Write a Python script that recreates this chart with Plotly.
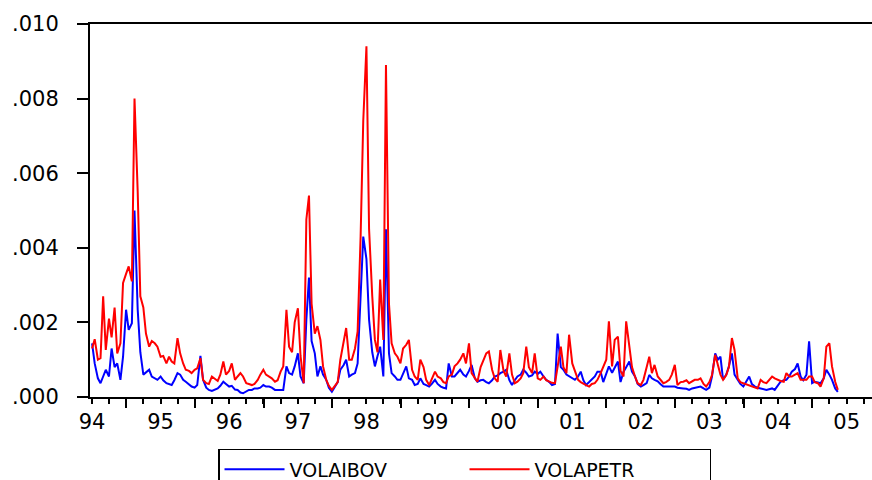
import plotly.graph_objects as go
import pandas as pd

# semi-monthly observation dates, Jan 1994 .. Nov 2004
dates = pd.date_range("1994-01-01", periods=262, freq="SMS")

SCALE = 1e-4  # values below are in units of 0.0001

volaibov_e4 = [
    # 1994
    14.4, 9, 5, 3.7, 5.5, 7.3, 5.5, 13, 8, 9, 4.6, 10.8, 23.4, 18, 19.8, 50, 23.4, 12, 6, 6.5, 7.3, 5.5, 5, 4.6,
    # 1995
    5.5, 4.5, 3.7, 3.5, 3.2, 4.5, 6.4, 6, 4.6, 4.1, 3.5, 2.8, 2.5, 3.2, 11, 4.6, 2.5, 1.9, 1.6, 1.9, 2.3, 3, 4.1, 3.5,
    # 1996
    2.8, 3, 2, 1.9, 1.2, 1, 1.4, 1.9, 1.9, 2.3, 2.3, 2.5, 3.2, 2.8, 2.8, 2.5, 1.9, 1.9, 1.9, 1.9, 8.2, 6.4, 6, 8.2,
    # 1997
    11.7, 5.5, 3.7, 20.7, 32, 15, 11.7, 5.5, 8.2, 6, 4.6, 2.5, 1.4, 2.5, 4, 7.3, 8.5, 10, 5.5, 6, 6.4, 9, 25, 43,
    # 1998
    37, 20.7, 12, 8.2, 11, 13.5, 5.5, 45, 11.7, 6.4, 5.5, 4.6, 4.6, 6.4, 8.2, 5, 4.6, 3.2, 3.5, 5, 3.5, 3.2, 2.8, 3.5,
    # 1999
    4.6, 3.5, 2.8, 2.5, 2.3, 9, 5.5, 5.5, 6.5, 7.3, 6, 5.5, 7, 8.6, 5, 4.1, 4.5, 4.6, 4, 3.7, 4.5, 5.5, 5.8, 6.4,
    # 2000
    6.8, 7.3, 4.5, 3.2, 4.5, 5.5, 6, 7.3, 6.5, 5.5, 5.8, 6.8, 6.2, 6.8, 5.5, 4.6, 4, 3.2, 3.5, 17, 8, 7.3, 6, 5.5,
    # 2001
    5, 4.6, 5.5, 6.8, 4.5, 3.2, 4, 4.6, 5.5, 6.8, 6.8, 4, 6, 8.2, 6.5, 7.7, 9.5, 4, 6.8, 8, 9.5, 6.8, 5.5, 3.5,
    # 2002
    2.8, 3.2, 3.7, 5.9, 5, 4.6, 4.2, 3.5, 2.8, 2.8, 2.8, 2.8, 2.8, 2.5, 2.3, 2.3, 2.2, 1.9, 2.3, 2.5, 2.8, 2.8, 2.3, 1.9,
    # 2003
    2.5, 5.5, 11.7, 10, 10.8, 4.6, 6, 8.2, 11.7, 6, 4.6, 3.5, 2.8, 4, 5.5, 3.5, 2.8, 2.5, 2.3, 2.1, 1.9, 2.1, 2.3, 1.9,
    # 2004
    3, 4.1, 4.5, 4.6, 5.5, 6.8, 7.5, 9, 5.5, 4.5, 6, 14.9, 3.7, 4.1, 3.9, 3.7, 5, 7.3, 6, 4.6, 2.3, 1.4,
]

volapetr_e4 = [
    # 1994
    13, 15.5, 10, 10.4, 27, 12.6, 21, 16, 24, 11.7, 14.4, 30.6, 33, 35, 31, 80, 55, 27, 24, 17, 13.5, 15, 14.4, 13.5,
    # 1995
    10.8, 11, 9, 10.8, 9.5, 9, 15.8, 11.7, 9, 7.3, 7, 6.4, 7.3, 7.7, 10.4, 4.6, 3.7, 3.5, 5.5, 5, 4.3, 6, 9.5, 6,
    # 1996
    7, 9, 4.6, 5.5, 6.4, 5.5, 3.7, 3.5, 3.2, 3.5, 4.6, 6, 7.3, 6, 5.5, 5, 4.1, 4.5, 6.8, 8.2, 23.4, 13.5, 12, 20,
    # 1997
    23.8, 11, 3.7, 47.6, 54, 25, 17, 19, 15.3, 8.2, 4.6, 3, 1.9, 2.8, 4, 10, 15, 18.5, 10, 10, 13, 17.6, 43, 74,
    # 1998
    94, 45, 27, 15.3, 12, 31.5, 15.3, 89, 25, 14.4, 11.7, 10.8, 9, 13, 14, 15.3, 7.3, 5.5, 4.6, 10, 8, 4.6, 3.2, 5,
    # 1999
    6.8, 5.5, 5, 4, 3.7, 5.5, 6, 8.2, 9, 10, 11.7, 9, 14.4, 6.4, 5, 4.1, 8, 10, 11.7, 12.2, 7.3, 5, 4.1, 12.6,
    # 2000
    7, 5.5, 11.7, 6, 3.7, 4.1, 5, 6.4, 13.5, 8, 6.4, 11.7, 5, 4.6, 5.5, 4.5, 4.1, 3.8, 3.7, 8.2, 13.5, 8, 6.4, 16.7,
    # 2001
    9, 7, 4.6, 4, 3.7, 3.2, 2.8, 3.5, 3.7, 4.6, 6.4, 8.2, 10, 20.3, 8.2, 15.3, 16.2, 7, 5.5, 20.3, 13, 8, 5.5, 3.7,
    # 2002
    3.2, 4.6, 8, 10.8, 6.4, 8.6, 5.5, 4.5, 3.7, 4, 4.6, 6, 8.6, 3.2, 4, 4.1, 4.5, 3.7, 4.2, 4.6, 4.6, 5, 3.5, 2.8,
    # 2003
    4, 5.9, 11.3, 8.2, 6, 4.6, 5.9, 8, 15.8, 12.6, 5, 4, 3.7, 3.5, 3.2, 3, 2.5, 2.3, 4.6, 4, 3.7, 4.5, 5.5, 5,
    # 2004
    4.6, 4.3, 4.1, 6.4, 5.5, 5.5, 6, 6.4, 4.6, 4.6, 4.6, 5.5, 5.5, 4, 3.7, 2.8, 5, 13.5, 14.4, 8.2, 4.1, 1.9,
]

year_labels = ["94", "95", "96", "97", "98", "99", "00", "01", "02", "03", "04", "05"]
year_starts = [f"{1994 + i}-01-01" for i in range(len(year_labels))]
mid_years = [f"{1994 + i}-07-02" for i in range(12)]
y_ticks = [0, 0.002, 0.004, 0.006, 0.008, 0.010]
y_ticktext = [".000", ".002", ".004", ".006", ".008", ".010"]

volaibov = [v * SCALE for v in volaibov_e4]
volapetr = [v * SCALE for v in volapetr_e4]

FONT = "DejaVu Sans"
x_range = ["1993-12-21", "2005-05-16"]

fig = go.Figure()
fig.add_trace(go.Scatter(x=dates, y=volaibov, mode="lines", name="VOLAIBOV",
                         line=dict(color="#0000FF", width=2)))
fig.add_trace(go.Scatter(x=dates, y=volapetr, mode="lines", name="VOLAPETR",
                         line=dict(color="#FF0000", width=2)))
# invisible trace carrying the year labels axis
fig.add_trace(go.Scatter(x=[dates[0]], y=[None], xaxis="x2", showlegend=False,
                         hoverinfo="skip"))

fig.update_layout(
    width=872, height=480,
    paper_bgcolor="white", plot_bgcolor="white",
    margin=dict(l=90, r=0, t=24, b=83, autoexpand=False),
    font=dict(family=FONT, color="black", size=20),
    showlegend=True,
    legend=dict(
        orientation="h", x=0.1637, y=-0.139, xanchor="left", yanchor="top",
        bordercolor="black", borderwidth=1.5, bgcolor="white",
        font=dict(family=FONT, size=19, color="black"),
        entrywidth=170, entrywidthmode="pixels", itemwidth=60,
        tracegroupgap=0,
    ),
    xaxis=dict(
        type="date", range=x_range,
        showline=True, linecolor="black", linewidth=2, mirror=True,
        showgrid=False, zeroline=False,
        tickmode="array", tickvals=mid_years, showticklabels=False,
        ticks="outside", ticklen=9, tickwidth=2, tickcolor="black",
        minor=dict(ticks="outside", dtick="M3", tick0="1994-01-01",
                   ticklen=5, tickwidth=2, tickcolor="black", showgrid=False),
    ),
    xaxis2=dict(
        type="date", range=x_range, overlaying="x", anchor="y", side="bottom",
        showline=False, showgrid=False, zeroline=False,
        tickmode="array", tickvals=year_starts, ticktext=year_labels,
        ticks="outside", ticklen=6, tickcolor="rgba(0,0,0,0)",
        tickfont=dict(family=FONT, size=21, color="black"),
    ),
    yaxis=dict(
        range=[0, 0.010],
        showline=True, linecolor="black", linewidth=2, mirror=False,
        showgrid=False, zeroline=False,
        tickmode="array", tickvals=y_ticks, ticktext=y_ticktext,
        ticks="outside", ticklen=11, tickwidth=2, tickcolor="black",
        ticklabelstandoff=14,
        tickfont=dict(family=FONT, size=21, color="black"),
    ),
)

fig.write_html(
    "out.html",
    config={"displayModeBar": False},
    post_script="document.body.style.margin='0px';document.body.style.overflow='hidden';",
)
